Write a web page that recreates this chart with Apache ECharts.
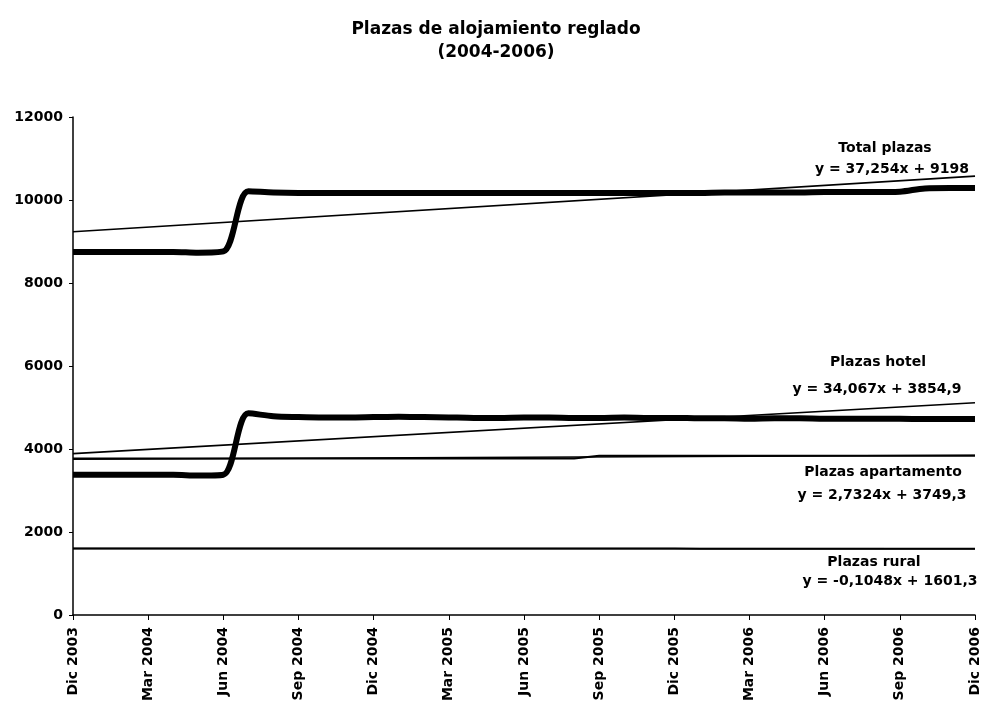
<!DOCTYPE html>
<html>
<head>
<meta charset="utf-8">
<script src="https://cdn.jsdelivr.net/npm/echarts@6/dist/echarts.min.js"></script>
<style>
  html, body { margin: 0; padding: 0; background: #fff; }
  #chart { width: 992px; height: 706px; }
</style>
</head>
<body>
<div id="chart"></div>
<script>
// Monthly categories, Dic 2003 .. Dic 2006
const months = [
  'Dic 2003',
  'Ene 2004','Feb 2004','Mar 2004','Abr 2004','May 2004','Jun 2004',
  'Jul 2004','Ago 2004','Sep 2004','Oct 2004','Nov 2004','Dic 2004',
  'Ene 2005','Feb 2005','Mar 2005','Abr 2005','May 2005','Jun 2005',
  'Jul 2005','Ago 2005','Sep 2005','Oct 2005','Nov 2005','Dic 2005',
  'Ene 2006','Feb 2006','Mar 2006','Abr 2006','May 2006','Jun 2006',
  'Jul 2006','Ago 2006','Sep 2006','Oct 2006','Nov 2006','Dic 2006'
];

// Plazas por tipo de alojamiento
const totalPlazas = [
  8750, 8750, 8750, 8750, 8750, 8730, 8760,
  10210, 10180, 10170, 10170, 10170, 10170,
  10170, 10170, 10170, 10170, 10170, 10170,
  10170, 10170, 10170, 10170, 10170, 10170,
  10170, 10180, 10180, 10180, 10180, 10190,
  10190, 10190, 10200, 10280, 10290, 10290
];
const plazasHotel = [
  3380, 3380, 3380, 3380, 3380, 3360, 3380,
  4860, 4790, 4770, 4760, 4760, 4770,
  4780, 4770, 4760, 4750, 4750, 4760,
  4760, 4750, 4750, 4760, 4750, 4750,
  4740, 4740, 4730, 4740, 4740, 4730,
  4730, 4730, 4730, 4720, 4720, 4720
];
const plazasApartamento = [
  3770, 3770, 3770, 3770, 3770, 3770, 3770,
  3770, 3770, 3770, 3770, 3770, 3770,
  3770, 3770, 3770, 3770, 3770, 3770,
  3770, 3770, 3840, 3840, 3840, 3840,
  3840, 3840, 3840, 3840, 3840, 3840,
  3840, 3840, 3840, 3840, 3840, 3840
];
const plazasRural = [
  1602, 1602, 1602, 1602, 1602, 1602, 1601,
  1601, 1601, 1601, 1601, 1601, 1601,
  1601, 1601, 1600, 1600, 1600, 1600,
  1600, 1600, 1600, 1600, 1600, 1600,
  1599, 1599, 1599, 1599, 1599, 1599,
  1598, 1598, 1598, 1598, 1598, 1598
];

// Linear trend coefficients (x = 1 for the first month)
const trendNames = ['Total plazas', 'Plazas hotel', 'Plazas apartamento', 'Plazas rural'];
const trendSlopes = [37.254, 34.067, 2.7324, -0.1048];
const trendIntercepts = [9198, 3854.9, 3749.3, 1601.3];
const trendLabels = [
  'y = 37,254x + 9198',
  'y = 34,067x + 3854,9',
  'y = 2,7324x + 3749,3',
  'y = -0,1048x + 1601,3'
];

const yTicks = [0, 2000, 4000, 6000, 8000, 10000, 12000];

const FONT = '"DejaVu Sans", "Liberation Sans", Arial, sans-serif';
const n = months.length;

function trendLine(k) {
  const a = trendSlopes[k], b = trendIntercepts[k];
  return [[0, a * 1 + b], [n - 1, a * n + b]];
}

const thin = { color: '#000', width: 2 };
const thick = { color: '#000', width: 6 };

const series = [
  { name: 'Total plazas', type: 'line', data: totalPlazas, smooth: 0.32, symbol: 'none', lineStyle: thick, z: 3 },
  { name: 'Plazas hotel', type: 'line', data: plazasHotel, smooth: 0.32, symbol: 'none', lineStyle: thick, z: 3 },
  { name: 'Plazas apartamento', type: 'line', data: plazasApartamento, symbol: 'none', lineStyle: thin, z: 3 },
  { name: 'Plazas rural', type: 'line', data: plazasRural, symbol: 'none', lineStyle: thin, z: 3 }
];
trendNames.forEach((name, k) => {
  series.push({
    name: 'Tendencia ' + name, type: 'line', data: trendLine(k),
    symbol: 'none', lineStyle: { color: '#000', width: 1.6 }, z: 4, silent: true
  });
});

// Annotation blocks: series name and its trend equation (centre x, centre y)
const annot = [
  { k: 0, nx: 885, ny: 148, ex: 892, ey: 169 },
  { k: 1, nx: 878, ny: 362, ex: 877, ey: 389 },
  { k: 2, nx: 883, ny: 472, ex: 882, ey: 495 },
  { k: 3, nx: 874, ny: 562, ex: 890, ey: 581 }
];
const textStyle = t => ({
  text: t, align: 'center', verticalAlign: 'middle',
  font: 'bold 14px ' + FONT, fill: '#000'
});
const graphic = [];
annot.forEach(a => {
  graphic.push({ type: 'text', x: a.nx, y: a.ny, style: textStyle(trendNames[a.k]) });
  graphic.push({ type: 'text', x: a.ex, y: a.ey, style: textStyle(trendLabels[a.k]) });
});

const chart = echarts.init(document.getElementById('chart'));
chart.setOption({
  animation: false,
  backgroundColor: '#fff',
  title: {
    text: 'Plazas de alojamiento reglado\n(2004-2006)',
    left: 'center', top: 13,
    textStyle: { fontFamily: FONT, fontWeight: 'bold', fontSize: 17, lineHeight: 23, color: '#000' }
  },
  grid: { left: 73, right: 17, top: 117, bottom: 91, containLabel: false },
  xAxis: {
    type: 'category', data: months, boundaryGap: false,
    axisLine: { lineStyle: { color: '#000', width: 1.5 } },
    axisTick: { show: true, interval: 2, length: 5, lineStyle: { color: '#000' } },
    axisLabel: {
      interval: 2, rotate: 90, margin: 12, color: '#000',
      fontFamily: FONT, fontWeight: 'bold', fontSize: 14
    },
    splitLine: { show: false }
  },
  yAxis: {
    type: 'value', min: yTicks[0], max: yTicks[yTicks.length - 1], interval: 2000,
    axisLine: { show: true, lineStyle: { color: '#000', width: 1.5 } },
    axisTick: { show: true, length: 4, lineStyle: { color: '#000' } },
    axisLabel: {
      margin: 10, color: '#000', fontFamily: FONT, fontWeight: 'bold', fontSize: 14,
      formatter: v => String(v)
    },
    splitLine: { show: false }
  },
  series: series,
  graphic: graphic
});
</script>
</body>
</html>
